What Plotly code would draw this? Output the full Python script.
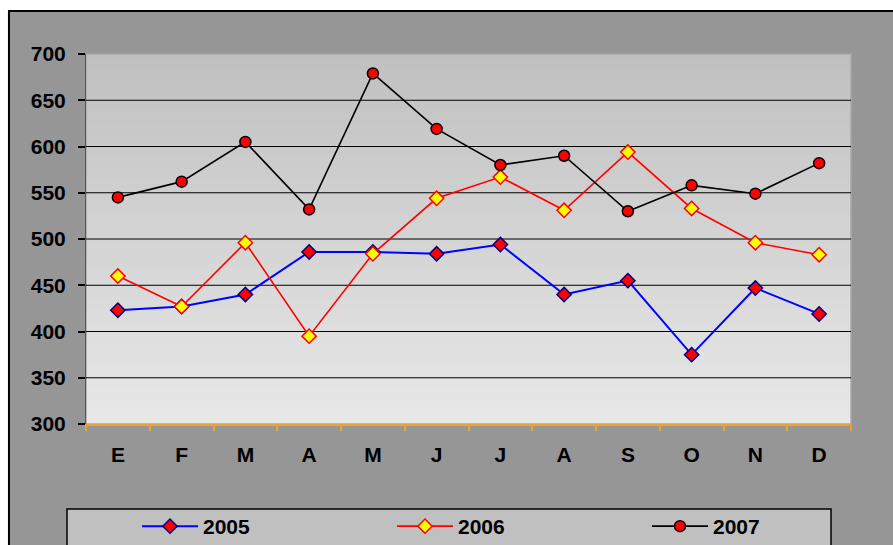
import plotly.graph_objects as go

months = ["E", "F", "M", "A", "M", "J", "J", "A", "S", "O", "N", "D"]
month_keys = [f"{m}{i}" for i, m in enumerate(months)]
s2005 = [423, 427, 440, 486, 486, 484, 494, 440, 455, 375, 447, 419]
s2006 = [460, 427, 496, 395, 484, 544, 567, 531, 594, 533, 496, 483]
s2007 = [545, 562, 605, 532, 679, 619, 580, 590, 530, 558, 549, 582]
y_ticks = [300, 350, 400, 450, 500, 550, 600, 650, 700]
grid_vals = [350, 400, 450, 500, 550, 600, 650]

FONT = "Arial, Liberation Sans, sans-serif"

fig = go.Figure()
fig.add_trace(go.Scatter(
    x=month_keys, y=s2005, name="2005", mode="lines+markers",
    line=dict(color="#0000ff", width=2),
    marker=dict(symbol="diamond", size=11, color="#ff0000",
                line=dict(color="#000080", width=1.5)),
))
fig.add_trace(go.Scatter(
    x=month_keys, y=s2006, name="2006", mode="lines+markers",
    line=dict(color="#ff0000", width=1.6),
    marker=dict(symbol="diamond", size=11, color="#ffff00",
                line=dict(color="#ff0000", width=1.5)),
))
fig.add_trace(go.Scatter(
    x=month_keys, y=s2007, name="2007", mode="lines+markers",
    line=dict(color="#000000", width=1.6),
    marker=dict(symbol="circle", size=11, color="#ff0000",
                line=dict(color="#000000", width=1.5)),
))

shapes = []
# outer chart area with border
shapes.append(dict(type="rect", xref="paper", yref="paper",
                   x0=-0.1007, x1=1.3, y0=-0.6, y1=1.1162,
                   fillcolor="#969696", line=dict(color="#000000", width=2),
                   layer="below"))
# gradient plot background
N = 74
for i in range(N):
    t = i / (N - 1)
    c = int(round(232 - (232 - 192) * t))
    shapes.append(dict(type="rect", xref="x domain", yref="y domain",
                       x0=0, x1=1, y0=i / N, y1=(i + 1) / N,
                       fillcolor=f"rgb({c},{c},{c})", line=dict(width=0),
                       layer="below"))
# plot area border (light)
shapes.append(dict(type="rect", xref="x domain", yref="y domain",
                   x0=0, x1=1, y0=0, y1=1, fillcolor="rgba(0,0,0,0)",
                   line=dict(color="#a8a8a8", width=1.5), layer="below"))
for g in grid_vals:
    shapes.append(dict(type="line", xref="x domain", yref="y",
                       x0=0, x1=1, y0=g, y1=g,
                       line=dict(color="#000000", width=1), layer="below"))
# legend box
shapes.append(dict(type="rect", xref="paper", yref="paper",
                   x0=(67 - 86) / 765, x1=(831 - 86) / 765,
                   y0=-0.45, y1=(424 - 509) / 370,
                   fillcolor="#c0c0c0", line=dict(color="#000000", width=1.5),
                   layer="below"))

fig.update_layout(
    width=893, height=545,
    margin=dict(l=86, r=42, t=54, b=121, autoexpand=False),
    paper_bgcolor="#ffffff",
    plot_bgcolor="rgba(0,0,0,0)",
    shapes=shapes,
    font=dict(family=FONT, color="#000000"),
    showlegend=True,
    legend=dict(
        orientation="h", x=(137 - 86) / 765, xanchor="left",
        y=(424 - 506) / 370, yanchor="top",
        bgcolor="rgba(0,0,0,0)", borderwidth=0,
        font=dict(family=FONT, size=21, weight="bold", color="#000000"),
        entrywidth=184, itemwidth=56,
    ),
    xaxis=dict(
        type="category", categoryorder="array", categoryarray=month_keys,
        tickvals=month_keys, ticktext=months,
        showgrid=False, zeroline=False,
        showline=True, linecolor="#f0a030", linewidth=2,
        ticks="outside", tickson="boundaries", ticklen=5, tickcolor="#f0a030",
        tickwidth=1.5,
        tickfont=dict(family=FONT, size=21, weight="bold", color="#000000"),
        ticklabelstandoff=11,
        range=[-0.5, 11.5],
    ),
    yaxis=dict(
        range=[300, 700], tickvals=y_ticks,
        showgrid=False, zeroline=False,
        showline=True, linecolor="#555555", linewidth=1,
        ticks="outside", ticklen=7, tickcolor="#000000", tickwidth=1.5,
        tickfont=dict(family=FONT, size=21, weight="bold", color="#000000"),
        ticklabelstandoff=8,
    ),
)

fig.write_html("out.html", config={"displayModeBar": False},
               post_script="document.body.style.margin='0';")
